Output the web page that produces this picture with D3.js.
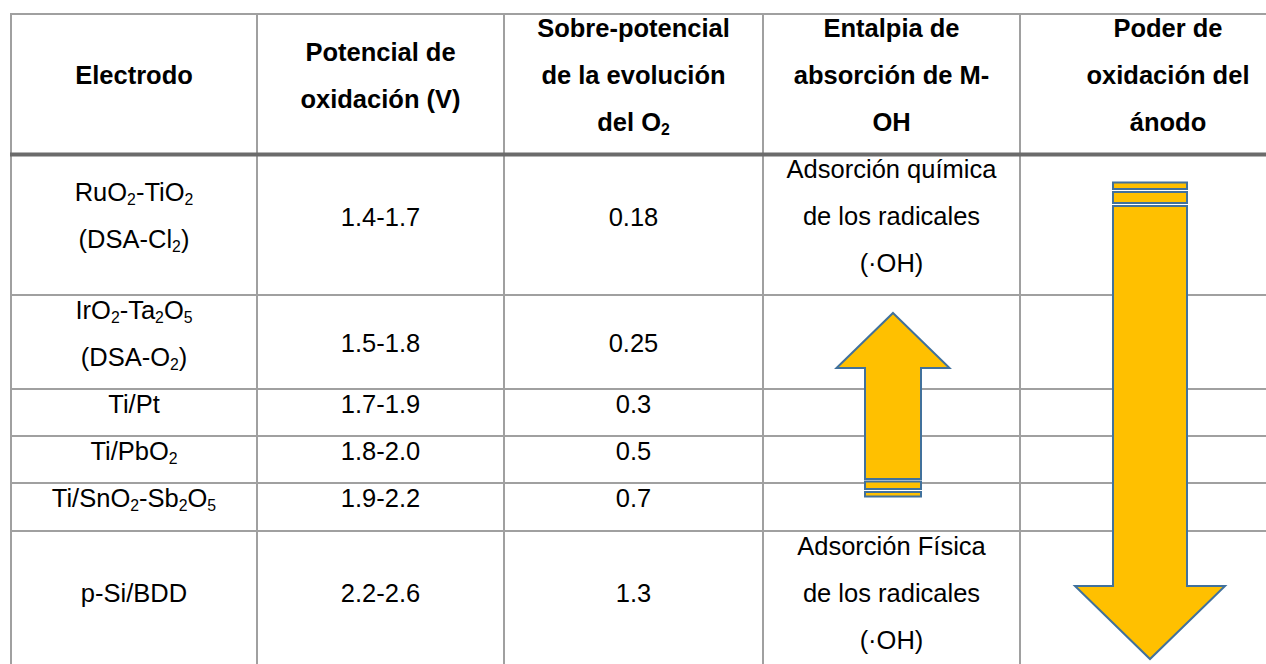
<!DOCTYPE html>
<html><head><meta charset="utf-8">
<script src="https://cdn.jsdelivr.net/npm/d3@7"></script>
<style>html,body{margin:0;padding:0;background:#fff;overflow:hidden} svg{display:block}</style>
</head><body>
<svg id="c" width="1266" height="664"></svg>
<script>
// ---- table content ----
const headers = [
  ["Electrodo"],
  ["Potencial de", "oxidación (V)"],
  ["Sobre-potencial", "de la evolución", "del O_2"],
  ["Entalpia de", "absorción de M-", "OH"],
  ["Poder de", "oxidación del", "ánodo"]
];
const electrodos = [
  ["RuO_2-TiO_2", "(DSA-Cl_2)"],
  ["IrO_2-Ta_2O_5", "(DSA-O_2)"],
  ["Ti/Pt"],
  ["Ti/PbO_2"],
  ["Ti/SnO_2-Sb_2O_5"],
  ["p-Si/BDD"]
];
const potencial = ["1.4-1.7", "1.5-1.8", "1.7-1.9", "1.8-2.0", "1.9-2.2", "2.2-2.6"];
const sobrepotencial = ["0.18", "0.25", "0.3", "0.5", "0.7", "1.3"];
const entalpia = [
  ["Adsorción química", "de los radicales", "(·OH)"],
  [], [], [], [],
  ["Adsorción Física", "de los radicales", "(·OH)"]
];

// ---- layout ----
const W = 1266, H = 664;
const colWidths = [246, 247, 259, 257, 296];
const rowHeights = [140, 141, 94, 47, 47, 48, 142];
const tLeft = 11, tTop = 14;
const fs = 25.5, lineStep = 47, baseOff = 23.5;
const singleShift = [0, 1.5, 10, 0, 0, 0, 0];
const gridColor = "#a0a0a0", headLineColor = "#6b6b6b";
const arrowFill = "#FFC000", arrowStroke = "#41719C";
const font = "'Liberation Sans', Arial, sans-serif";

const colEdges = [tLeft]; colWidths.forEach(w => colEdges.push(colEdges[colEdges.length - 1] + w));
const rowEdges = [tTop]; rowHeights.forEach(h => rowEdges.push(rowEdges[rowEdges.length - 1] + h));
const colIdx = d3.range(colWidths.length), rowIdx = d3.range(rowHeights.length);
const xCenter = d3.scaleOrdinal().domain(colIdx).range(colIdx.map(i => (colEdges[i] + colEdges[i + 1]) / 2));
const yTop = d3.scaleOrdinal().domain(rowIdx).range(rowIdx.map(i => rowEdges[i]));
const yH = d3.scaleOrdinal().domain(rowIdx).range(rowHeights);

const svg = d3.select("#c");
svg.append("rect").attr("width", W).attr("height", H).attr("fill", "#fff");

// grid
const g = svg.append("g");
rowEdges.forEach((y, i) => {
  if (i === 1) return;
  g.append("line").attr("x1", tLeft).attr("x2", colEdges[colEdges.length - 1])
    .attr("y1", y).attr("y2", y).attr("stroke", gridColor).attr("stroke-width", 2);
});
colEdges.forEach(x => {
  g.append("line").attr("x1", x).attr("x2", x).attr("y1", tTop - 1).attr("y2", rowEdges[rowEdges.length - 1])
    .attr("stroke", gridColor).attr("stroke-width", 2);
});
g.append("line").attr("x1", tLeft - 1).attr("x2", colEdges[colEdges.length - 1])
  .attr("y1", rowEdges[1] + 0.5).attr("y2", rowEdges[1] + 0.5).attr("stroke", headLineColor).attr("stroke-width", 4);

// text helper
function addLines(col, row, lines, bold) {
  if (!lines || !lines.length) return;
  const n = lines.length;
  const pad = (yH(row) - lineStep * n) / 2;
  lines.forEach((ln, i) => {
    let y = yTop(row) + pad + baseOff + lineStep * i;
    if (n === 1) y += singleShift[row];
    const t = svg.append("text").attr("x", xCenter(col)).attr("y", y)
      .attr("text-anchor", "middle").attr("font-family", font)
      .attr("font-size", fs).attr("font-weight", bold ? "bold" : "normal").attr("fill", "#000");
    const parts = ln.split(/(_\d)/).filter(p => p.length);
    let sub = false;
    parts.forEach(p => {
      if (p[0] === "_") {
        t.append("tspan").attr("font-size", fs * 0.62).attr("dy", sub ? 0 : 4).text(p.slice(1));
        sub = true;
      } else {
        t.append("tspan").attr("dy", sub ? -4 : 0).text(p);
        sub = false;
      }
    });
  });
}

headers.forEach((h, c) => addLines(c, 0, h, true));
electrodos.forEach((d, r) => addLines(0, r + 1, d, false));
potencial.forEach((d, r) => addLines(1, r + 1, [d], false));
sobrepotencial.forEach((d, r) => addLines(2, r + 1, [d], false));
entalpia.forEach((d, r) => addLines(3, r + 1, d, false));

// arrows
const arrowG = svg.append("g").attr("fill", arrowFill).attr("stroke", arrowStroke).attr("stroke-width", 2);
const line = d3.line();
// up arrow (column 4)
const ux = xCenter(3) + 1.5, uBw = 28, uHw = 56.5;
const uTip = 313, uHeadBase = 368, uBottom = 479;
arrowG.append("path").attr("d", line([
  [ux, uTip], [ux + uHw, uHeadBase], [ux + uBw, uHeadBase], [ux + uBw, uBottom],
  [ux - uBw, uBottom], [ux - uBw, uHeadBase], [ux - uHw, uHeadBase]]) + "Z");
arrowG.append("rect").attr("x", ux - uBw).attr("width", 2 * uBw).attr("y", 481.5).attr("height", 7.5);
arrowG.append("rect").attr("x", ux - uBw).attr("width", 2 * uBw).attr("y", 492).attr("height", 4.5);
// down arrow (column 5)
const dx = 1150, dBw = 37, dHw = 75;
const dTop = 206, dHeadBase = 586, dTip = 659;
arrowG.append("rect").attr("x", dx - dBw).attr("width", 2 * dBw).attr("y", 182.5).attr("height", 6.5);
arrowG.append("rect").attr("x", dx - dBw).attr("width", 2 * dBw).attr("y", 192).attr("height", 11);
arrowG.append("path").attr("d", line([
  [dx - dBw, dTop], [dx + dBw, dTop], [dx + dBw, dHeadBase], [dx + dHw, dHeadBase],
  [dx, dTip], [dx - dHw, dHeadBase], [dx - dBw, dHeadBase]]) + "Z");
</script>
</body></html>
